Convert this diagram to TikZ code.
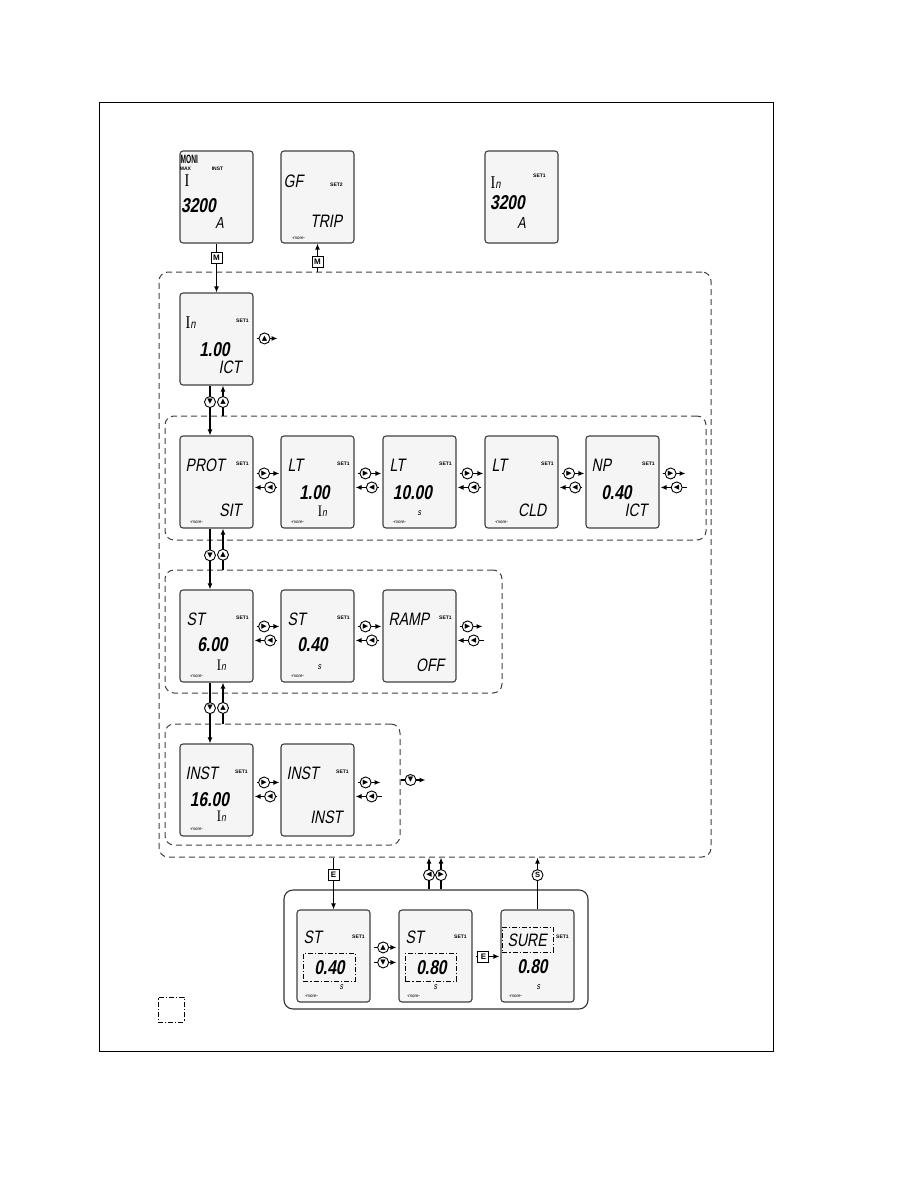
\documentclass[tikz,border=0pt]{standalone}
\usepackage{fontspec}
\setmainfont{Liberation Sans}
\newfontfamily\lcd[FakeSlant=0.18,FakeStretch=0.78]{Liberation Sans}
\newfontfamily\monifont[FakeStretch=0.55]{Liberation Sans}
\newfontfamily\ser[FakeStretch=0.8]{Liberation Serif}
\newfontfamily\sym{DejaVu Sans}
\usetikzlibrary{arrows.meta}
\tikzset{
 frame/.style={draw=black, line width=0.9pt},
 disp/.style={draw=black!75, line width=1.1pt, rounded corners=3pt, fill=black!4, minimum width=73pt, minimum height=92pt, inner sep=0pt},
 ttl/.style={font=\lcd\fontsize{18}{18}\selectfont, anchor=west, inner sep=0pt},
 val/.style={font=\lcd\bfseries\fontsize{20}{20}\selectfont, inner sep=0pt},
 wrd/.style={font=\lcd\fontsize{18}{18}\selectfont, anchor=east, inner sep=0pt},
 unit/.style={font=\lcd\fontsize{16}{16}\selectfont, inner sep=0pt},
 smallunit/.style={font=\lcd\fontsize{9}{9}\selectfont, inner sep=0pt},
 tiny/.style={font=\bfseries\fontsize{5}{5}\selectfont, inner sep=0pt},
 more/.style={font=\fontsize{4.5}{4.5}\selectfont, inner sep=0pt},
 monif/.style={font=\monifont\bfseries\fontsize{12}{12}\selectfont, anchor=west, inner sep=0pt},
 arr/.style={line width=1.2pt, -{Latex[length=6pt,width=5pt]}},
 btn/.style={circle, draw, fill=white, line width=0.9pt, minimum size=11pt, inner sep=0pt, font=\sym\fontsize{7}{7}\selectfont},
 sq/.style={rectangle, draw, fill=white, line width=0.9pt, minimum size=11pt, inner sep=0pt, font=\bfseries\fontsize{8}{8}\selectfont},
 region/.style={draw=black!75, dash pattern=on 6pt off 4pt, line width=1pt, rounded corners=9pt, inner sep=0pt},
 solidregion/.style={draw=black!80, line width=1.1pt, rounded corners=9pt, inner sep=0pt},
 ddbox/.style={draw=black, dash pattern=on 5pt off 2pt on 1.2pt off 2pt, line width=1pt, inner sep=0pt},
}
\newcommand\dsp[3]{\node[disp] (#1) at (#2+36.5,#3+46) {};}
\newcommand\tx[5]{\node[#2] (#1) at ([shift={(#3,#4)}]\cur.north west) {#5};}
\newcommand\In[1]{{\ser I}{\fontsize{#1}{#1}\selectfont n}}
\newcommand\pairarrows[3]{%
 \draw[arr] ([shift={(3,#3)}]#1.north east) -- node[btn,pos=0.33] (#1-r) {▶} ([shift={(-1,#3)}]#2.north west);
 \draw[arr] ([shift={(-3,#3+14)}]#2.north west) -- node[btn,pos=0.32] (#1-l) {◀} ([shift={(1,#3+14)}]#1.north east);}
\newcommand\outarrows[2]{%
 \coordinate (#1-o1) at ([shift={(26,#2)}]#1.north east);
 \coordinate (#1-o2) at ([shift={(27,#2+14)}]#1.north east);
 \draw[arr] ([shift={(3,#2)}]#1.north east) -- node[btn,pos=0.35] (#1-r) {▶} (#1-o1);
 \draw[arr] (#1-o2) -- node[btn,pos=0.38] (#1-l) {◀} ([shift={(1,#2+14)}]#1.north east);}
\begin{document}
\begin{tikzpicture}[x=1pt,y=-1pt]
\useasboundingbox (0,0) rectangle (918,1188);
\draw[frame] (99,102) rectangle (773,1051);

% regions
\node[region, minimum width=552pt, minimum height=585pt] (R0) at (435,564.5) {};
\node[region, minimum width=541pt, minimum height=124pt] (R1) at (435.5,478) {};
\node[region, minimum width=337pt, minimum height=123pt] (R2) at (333.5,631.5) {};
\node[region, minimum width=235pt, minimum height=121pt] (R3) at (282.5,784.5) {};
\node[solidregion, minimum width=304pt, minimum height=119pt] (B) at (436,949.5) {};

% displays
\dsp{moni}{180}{151}
\dsp{gf}{281}{151}
\dsp{in0}{485}{151}
\dsp{in1}{180}{293}
\dsp{prot}{180}{436}
\dsp{lta}{281}{436}
\dsp{ltb}{383}{436}
\dsp{ltc}{485}{436}
\dsp{np}{586}{436}
\dsp{sta}{180}{590}
\dsp{stb}{281}{590}
\dsp{ramp}{383}{590}
\dsp{insta}{180}{744}
\dsp{instb}{281}{744}
\dsp{ba}{297}{910}
\dsp{bb}{399}{910}
\dsp{bc}{501}{910}

% display contents
\def\cur{moni}
\tx{moni-a}{monif}{1}{9}{MONI}
\tx{moni-b}{tiny}{6}{18}{MAX}
\tx{moni-c}{tiny}{38}{18}{INST}
\tx{moni-d}{ttl}{5}{30}{\ser I}
\tx{moni-e}{val}{19}{55}{3200}
\tx{moni-f}{unit}{40}{73}{A}

\def\cur{gf}
\tx{gf-a}{ttl}{3}{31}{GF}
\tx{gf-b}{tiny}{56}{34}{SET2}
\tx{gf-c}{wrd}{62}{71}{TRIP}
\tx{gf-d}{more}{18}{88}{-more-}

\def\cur{in0}
\tx{in0-a}{ttl}{6}{32}{\In{12}}
\tx{in0-b}{tiny}{55}{25}{SET1}
\tx{in0-c}{val}{23}{52}{3200}
\tx{in0-d}{unit}{37}{73}{A}

\def\cur{in1}
\tx{in1-a}{ttl}{6}{30}{\In{12}}
\tx{in1-b}{tiny}{63}{28}{SET1}
\tx{in1-c}{val}{35}{57}{1.00}
\tx{in1-d}{wrd}{62}{75}{ICT}

\def\cur{prot}
\tx{prot-a}{ttl}{6}{30}{PROT}
\tx{prot-b}{tiny}{63}{28}{SET1}
\tx{prot-c}{wrd}{62}{75}{SIT}
\tx{prot-d}{more}{17}{87}{-more-}

\def\cur{lta}
\tx{lta-a}{ttl}{7}{30}{LT}
\tx{lta-b}{tiny}{63}{28}{SET1}
\tx{lta-c}{val}{34}{57}{1.00}
\tx{lta-d}{unit}{42}{76}{\In{11}}
\tx{lta-e}{more}{17}{87}{-more-}

\def\cur{ltb}
\tx{ltb-a}{ttl}{7}{30}{LT}
\tx{ltb-b}{tiny}{63}{28}{SET1}
\tx{ltb-c}{val}{30}{57}{10.00}
\tx{ltb-d}{smallunit}{37}{78}{s}
\tx{ltb-e}{more}{17}{87}{-more-}

\def\cur{ltc}
\tx{ltc-a}{ttl}{7}{30}{LT}
\tx{ltc-b}{tiny}{63}{28}{SET1}
\tx{ltc-c}{wrd}{62}{75}{CLD}
\tx{ltc-d}{more}{17}{87}{-more-}

\def\cur{np}
\tx{np-a}{ttl}{6}{30}{NP}
\tx{np-b}{tiny}{63}{28}{SET1}
\tx{np-c}{val}{31}{57}{0.40}
\tx{np-d}{wrd}{62}{75}{ICT}

\def\cur{sta}
\tx{sta-a}{ttl}{7}{30}{ST}
\tx{sta-b}{tiny}{63}{28}{SET1}
\tx{sta-c}{val}{33}{55}{6.00}
\tx{sta-d}{unit}{42}{76}{\In{11}}
\tx{sta-e}{more}{17}{87}{-more-}

\def\cur{stb}
\tx{stb-a}{ttl}{7}{30}{ST}
\tx{stb-b}{tiny}{63}{28}{SET1}
\tx{stb-c}{val}{32}{55}{0.40}
\tx{stb-d}{smallunit}{39}{78}{s}
\tx{stb-e}{more}{17}{87}{-more-}

\def\cur{ramp}
\tx{ramp-a}{ttl}{6}{30}{RAMP}
\tx{ramp-b}{tiny}{63}{28}{SET1}
\tx{ramp-c}{wrd}{62}{76}{OFF}

\def\cur{insta}
\tx{insta-a}{ttl}{6}{30}{INST}
\tx{insta-b}{tiny}{62}{28}{SET1}
\tx{insta-c}{val}{30}{56}{16.00}
\tx{insta-d}{unit}{42}{73}{\In{11}}
\tx{insta-e}{more}{17}{86}{-more-}

\def\cur{instb}
\tx{instb-a}{ttl}{6}{30}{INST}
\tx{instb-b}{tiny}{62}{28}{SET1}
\tx{instb-c}{wrd}{62}{74}{INST}

\def\cur{ba}
\tx{ba-a}{ttl}{7}{28}{ST}
\tx{ba-b}{tiny}{62}{27}{SET1}
\node[ddbox, minimum width=52pt, minimum height=28pt] (ba-box) at ([shift={(33,58)}]ba.north west) {};
\tx{ba-c}{val}{33}{58}{0.40}
\tx{ba-d}{smallunit}{45}{78}{s}
\tx{ba-e}{more}{15}{87}{-more-}

\def\cur{bb}
\tx{bb-a}{ttl}{7}{28}{ST}
\tx{bb-b}{tiny}{62}{27}{SET1}
\node[ddbox, minimum width=51pt, minimum height=28pt] (bb-box) at ([shift={(32.5,58)}]bb.north west) {};
\tx{bb-c}{val}{33}{58}{0.80}
\tx{bb-d}{smallunit}{37}{78}{s}
\tx{bb-e}{more}{15}{87}{-more-}

\def\cur{bc}
\node[ddbox, minimum width=51pt, minimum height=25pt] (bc-box) at ([shift={(27.5,30.5)}]bc.north west) {};
\tx{bc-a}{ttl}{7}{30.5}{SURE}
\tx{bc-b}{tiny}{62}{27}{SET1}
\tx{bc-c}{val}{32}{57}{0.80}
\tx{bc-d}{smallunit}{38}{78}{s}
\tx{bc-e}{more}{15}{87}{-more-}

% legend
\node[ddbox, minimum width=26pt, minimum height=25pt] (legend) at (171,1009.5) {};

% top connectors
\draw[arr] (moni.south) -- node[sq,pos=0.3] (m1) {M} (moni.south |- in1.north);
\draw[arr] (gf.south |- R0.north) -- node[sq,pos=0.34] (m2) {M} (gf.south);

% In display
\coordinate (in1-o) at ([shift={(24,46)}]in1.north east);
\draw[arr] ([shift={(3,46)}]in1.north east) -- node[btn,pos=0.38] (in1-up) {▲} (in1-o);

% vertical connectors
\coordinate (c1d) at ([xshift=-6.5pt]in1.south);
\coordinate (c1u) at ([xshift=6.5pt]in1.south);
\draw[arr] (c1d) -- node[btn,pos=0.33] (v1d) {▼} (c1d |- prot.north);
\draw[arr] (c1u |- R1.north) -- node[btn,pos=0.45] (v1u) {▲} (c1u);

\coordinate (c2d) at ([xshift=-6.5pt]prot.south);
\coordinate (c2u) at ([xshift=6.5pt]prot.south);
\draw[arr] (c2d) -- node[btn,pos=0.44] (v2d) {▼} (c2d |- sta.north);
\draw[arr] (c2u |- R2.north) -- node[btn,pos=0.36] (v2u) {▲} (c2u);

\coordinate (c3d) at ([xshift=-6.5pt]sta.south);
\coordinate (c3u) at ([xshift=6.5pt]sta.south);
\draw[arr] (c3d) -- node[btn,pos=0.42] (v3d) {▼} (c3d |- insta.north);
\draw[arr] (c3u |- R3.north) -- node[btn,pos=0.38] (v3u) {▲} (c3u);

% row arrows
\pairarrows{prot}{lta}{38}
\pairarrows{lta}{ltb}{38}
\pairarrows{ltb}{ltc}{38}
\pairarrows{ltc}{np}{38}
\outarrows{np}{38}
\pairarrows{sta}{stb}{37}
\pairarrows{stb}{ramp}{37}
\outarrows{ramp}{37}
\pairarrows{insta}{instb}{39}
\outarrows{instb}{39}

% R3 down exit
\coordinate (r3-o) at ([xshift=25pt]R3.east);
\draw[arr] ([yshift=4.5pt]R3.east) -- node[btn,pos=0.4] (r3-btn) {▼} ([yshift=4.5pt]r3-o);

% bottom connectors
\draw[arr] (ba.north |- R0.south) -- node[sq,pos=0.34] (e1) {E} (ba.north);
\coordinate (bl) at (429,0);
\coordinate (br) at (441,0);
\draw[arr] (bl |- B.north) -- node[btn,pos=0.45] (bl-btn) {◀} (bl |- R0.south);
\draw[arr] (br |- B.north) -- node[btn,pos=0.45] (br-btn) {▶} (br |- R0.south);
\draw[arr] (bc.north) -- node[btn,pos=0.66,font=\bfseries\fontsize{7.5}{7.5}\selectfont] (s1) {S} (bc.north |- R0.south);

\draw[arr] ([shift={(3,38)}]ba.north east) -- node[btn,pos=0.42] (ba-up) {▲} ([shift={(-2,38)}]bb.north west);
\draw[arr] ([shift={(3,53)}]ba.north east) -- node[btn,pos=0.42] (ba-dn) {▼} ([shift={(-2,53)}]bb.north west);
\draw[arr] ([shift={(3,47)}]bb.north east) -- node[sq,pos=0.33] (e2) {E} ([shift={(-1,47)}]bc.north west);
\end{tikzpicture}
\end{document}
